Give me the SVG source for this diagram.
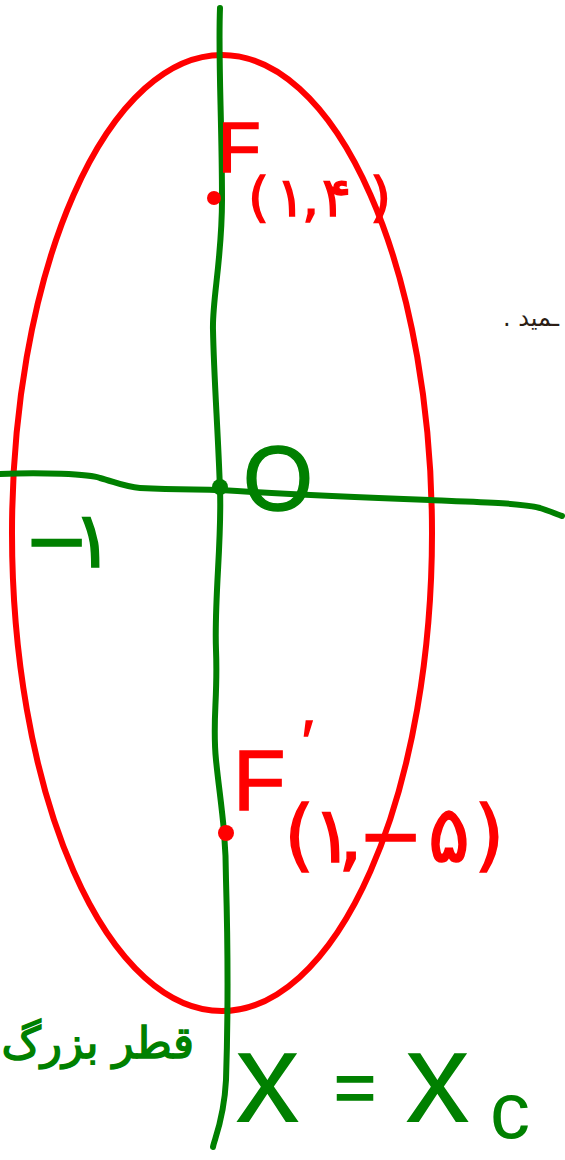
<svg xmlns="http://www.w3.org/2000/svg" width="565" height="1160" viewBox="0 0 565 1160">
<style>
.ink{fill:none;stroke-linecap:round;stroke-linejoin:round}
.g{stroke:#008000;stroke-width:6}
.r{stroke:#ff0000;stroke-width:6}
.hr{fill:#ff0000;stroke:#ff0000;stroke-width:1.5;font-family:"Liberation Sans",sans-serif}
.hg{fill:#008000;stroke:#008000;stroke-width:1.5;font-family:"Liberation Sans",sans-serif}
.fa{font-family:"DejaVu Sans",sans-serif}
</style>
<rect width="565" height="1160" fill="#ffffff"/>
<g id="ellipse">
<ellipse class="ink r" cx="222" cy="533" rx="210" ry="478"/>
</g>
<g id="axes">
<path class="ink g" d="M220,8 C218,60 222,120 222,200 C222,260 212,300 213,330 C214,380 218,430 220,490 C222,540 214,600 216,650 C218,700 212,720 216,760 C220,800 226,830 226,880 C228,950 228,1020 226,1080 C224,1120 214,1140 213,1147"/>
<path class="ink g" d="M0,474 C40,472 90,474 100,478 C115,482 125,487 140,488 C180,490 200,489 220,490 C280,494 350,497 430,500 C480,502 520,503 540,508 C550,511 558,515 562,516"/>
<circle cx="220" cy="487" r="8" fill="#008000"/>
</g>
<g id="focus-top">
<circle cx="214" cy="198" r="7" fill="#ff0000"/>
<text class="hr" x="218" y="172" font-size="70">F</text>
<text class="hr fa" x="248 276 302 322 370" y="216" font-size="54">(۱,۴)</text>
</g>
<g id="focus-bottom">
<circle cx="226" cy="833" r="8" fill="#ff0000"/>
<text class="hr" x="233" y="810" font-size="86">F</text>
<text class="hr" x="302" y="762" font-size="60">′</text>
<text class="hr fa" x="284 312 338 358 428 474" y="862" font-size="78">(۱,−۵)</text>
</g>
<g id="origin">
<text class="hg" x="243" y="510" font-size="90">O</text>
</g>
<g id="line-label">
<text class="hg fa" x="24 72" y="567" font-size="78">−۱</text>
</g>
<g id="major-axis-label">
<text class="hg fa" x="194" y="1058" font-size="44" direction="rtl" text-anchor="start">قطر بزرگ</text>
</g>
<g id="equation">
<text x="235" y="1122" font-size="130" fill="#008000" font-family="Liberation Sans, sans-serif">x</text>
<text class="hg" x="334" y="1112" font-size="72">=</text>
<text x="405" y="1122" font-size="130" fill="#008000" font-family="Liberation Sans, sans-serif">x</text>
<text x="490" y="1138" font-size="80" fill="#008000" font-family="Liberation Sans, sans-serif">c</text>
</g>
<g id="printed-text">
<text class="fa" x="503" y="326" font-size="24" fill="#2b1d14" direction="rtl" text-anchor="end">ـمید .</text>
</g>
</svg>
